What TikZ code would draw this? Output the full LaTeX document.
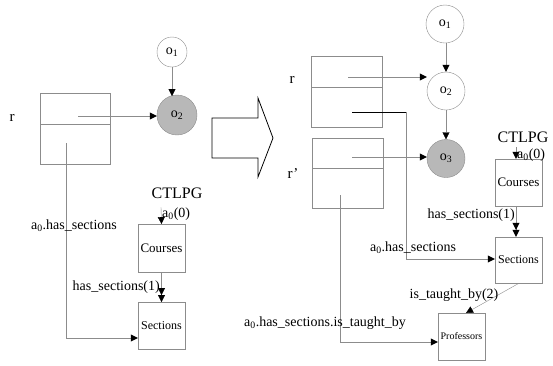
\documentclass[tikz,border=0pt]{standalone}
\usepackage{fontspec}
\setmainfont{Liberation Serif}
\usepackage{tikz}
\usetikzlibrary{arrows.meta}
\definecolor{linegray}{rgb}{0.55, 0.55, 0.55}
\definecolor{fillgray}{rgb}{0.72, 0.72, 0.72}

\begin{document}
\begin{tikzpicture}[>=Triangle, x=1pt, y=-1pt]
	\useasboundingbox (0,0) rectangle (553,365);
	% ------------------------------------------------------------------
	% STYLE DEFINITIONS
	% ------------------------------------------------------------------
	\tikzset{
		field/.style   = {draw=linegray, rectangle, inner sep=0pt},
		obj/.style     = {draw=linegray, circle, inner sep=0pt, minimum size=38pt, font=\fontsize{14}{14}\selectfont},
		objhot/.style  = {obj, fill=fillgray},
		relbox/.style  = {draw=linegray, rectangle, inner sep=0pt, minimum width=47pt, minimum height=47pt},
		lbl/.style     = {inner sep=0pt, font=\fontsize{14}{14}\selectfont},
		big/.style     = {inner sep=0pt, font=\fontsize{16}{16}\selectfont},
		link/.style    = {linegray, arrows={-{Triangle[length=7pt,width=7pt,black]}}},
		dlink/.style   = {linegray, arrows={-{Triangle[length=7pt,width=7pt,black]Triangle[length=7pt,width=7pt,black]}}},
	}

	% ------------------------------------------------------------------
	% LEFT: BEFORE
	% ------------------------------------------------------------------
	\node[lbl, font=\fontsize{15}{15}\selectfont] (rL) at (12,118) {r};
	\node[field, minimum width=70pt, minimum height=31pt] (recLa) at (75,108.5) {};
	\node[field, minimum width=70pt, minimum height=40pt] (recLb) at (75,144) {};
	\node[obj, minimum size=30pt] (o1L) at (172,52) {o\textsubscript{1}};
	\node[objhot, minimum size=40pt] (o2L) at (177,115) {o\textsubscript{2}};
	\coordinate (pLa) at (78,116);
	\coordinate (pLb) at (66,143);
	\coordinate (hsL) at (66,338);
	\draw[link] (o1L.south) -- (o1L.south |- 0,96);
	\draw[link] (pLa) -- (pLa -| o2L.west);

	% CTLPG of the left side
	\node[big] (ctL) at (177,193) {CTLPG};
	\coordinate (a0L) at (161,207);
	\node[relbox, minimum height=48pt, font=\fontsize{13}{13}\selectfont] (coursesL) at (161.5,248) {Courses};
	\node[relbox, font=\fontsize{12}{12}\selectfont] (sectionsL) at (161.5,325.5) {Sections};
	\draw[link] (a0L) -- (coursesL.north |- 0,224);
	\node[lbl, anchor=west] (a0lblL) at (162,214) {a\textsubscript{0}(0)};
	\draw[dlink] (coursesL.south |- 0,272) -- (sectionsL.north |- 0,302);
	\node[lbl, anchor=east] (hsLbl) at (160,287) {has\_sections(1)};
	\draw[link] (pLb) -- (hsL) -- (hsL -| sectionsL.west);
	\node[lbl] (aLbl) at (74,226) {a\textsubscript{0}.has\_sections};

	% ------------------------------------------------------------------
	% BIG ARROW
	% ------------------------------------------------------------------
	\draw[thick] (212,118) -- (258,118) -- (258,98) -- (273,138) -- (258,177)
		-- (258,158) -- (212,158) -- cycle;

	% ------------------------------------------------------------------
	% RIGHT: AFTER
	% ------------------------------------------------------------------
	\node[lbl, font=\fontsize{15}{15}\selectfont] (rR) at (292,80) {r};
	\node[lbl, font=\fontsize{15}{15}\selectfont] (rpR) at (293,174) {r’};
	\node[field, minimum width=71pt, minimum height=31pt] (recRa) at (346.5,71.5) {};
	\node[field, minimum width=71pt, minimum height=40pt] (recRb) at (346.5,107) {};
	\node[field, minimum width=71pt, minimum height=30pt] (recSa) at (347.5,153) {};
	\node[field, minimum width=71pt, minimum height=40pt] (recSb) at (347.5,188) {};
	\node[obj] (o1R) at (445,24) {o\textsubscript{1}};
	\node[obj] (o2R) at (446,91) {o\textsubscript{2}};
	\node[objhot] (o3R) at (446,158.5) {o\textsubscript{3}};
	\draw[link] (o1R.south -| o2R.north) -- (o2R.north);
	\draw[link] (o2R.south) -- (o3R.north);
	\coordinate (pRa) at (348,77);
	\coordinate (pRb) at (352,112);
	\coordinate (kRb) at (406,112);
	\coordinate (hsR) at (406,259);
	\coordinate (pSa) at (352,157);
	\coordinate (pSb) at (340,195);
	\coordinate (tbR) at (340,342);
	\draw[link] (pRa) -- (pRa -| o2R.west);
	\draw[link] (pSa) -- (pSa -| o3R.west);

	% CTLPG of the right side
	\node[big] (ctR) at (523,137) {CTLPG};
	\coordinate (a0R) at (516,147);
	\node[relbox] (coursesR) at (518.5,182.5) [font=\fontsize{13}{13}\selectfont] {Courses};
	\node[relbox, minimum height=46pt, font=\fontsize{12}{12}\selectfont] (sectionsR) at (518.5,260) {Sections};
	\node[relbox, font=\fontsize{10}{10}\selectfont] (profR) at (461.5,336.5) {Professors};
	\draw[link] (a0R) -- (a0R |- coursesR.north);
	\node[lbl, anchor=west] (a0lblR) at (517,155) {a\textsubscript{0}(0)};
	\draw[dlink] (a0R |- coursesR.south) -- (a0R |- sectionsR.north);
	\node[lbl, anchor=east] (hsRbl) at (515,215) {has\_sections(1)};
	\draw[black, thick] (pRb) -- (kRb);
	\draw[link] (kRb) -- (hsR) -- (hsR -| sectionsR.west);
	\node[lbl] (aRbl) at (413,248) {a\textsubscript{0}.has\_sections};
	\draw[link] (sectionsR.south -| 519,0) -- (466,313);
	\node[lbl] (tbRbl) at (454,295) {is\_taught\_by(2)};
	\draw[link] (pSb) -- (tbR) -- (tbR -| profR.west);
	\node[lbl] (tbLbl) at (325,323) {a\textsubscript{0}.has\_sections.is\_taught\_by};
\end{tikzpicture}
\end{document}
